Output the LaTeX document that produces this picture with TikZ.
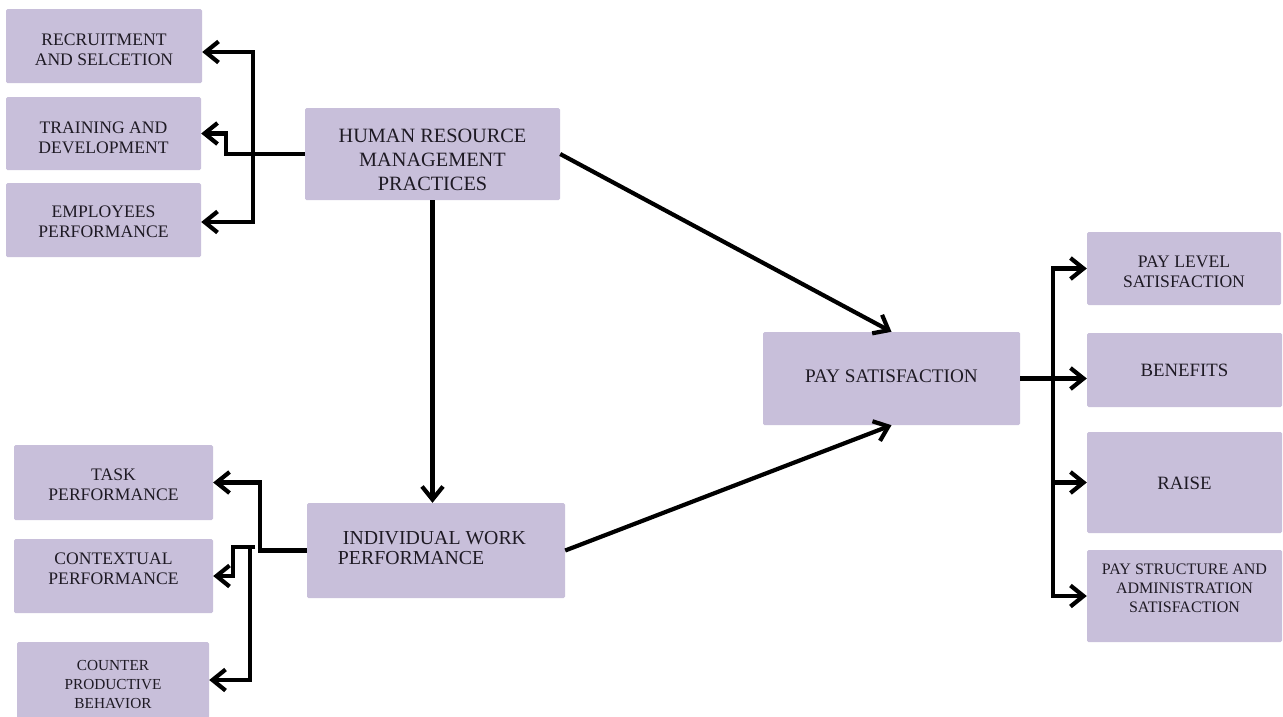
\documentclass[tikz,border=0pt]{standalone}
\usepackage{fontspec}
\setmainfont{Liberation Serif}
\usetikzlibrary{arrows.meta,calc}
\definecolor{boxfill}{HTML}{C8BFDA}
\definecolor{txt}{HTML}{1E1A24}
\begin{document}
\begin{tikzpicture}[x=1pt,y=-1pt,
  box/.style={draw=none,fill=boxfill,rounded corners=1.5pt,inner sep=0pt},
  lbl/.style={inner sep=0pt,align=center,text=txt},
  small/.style={font=\fontsize{17.6}{20}\selectfont},
  big/.style={font=\fontsize{20.3}{24}\selectfont},
  arr/.style={line width=4.2pt,line join=miter,-{Straight Barb[length=13pt,width=21pt,line width=4.2pt]}}]
\useasboundingbox (0,0) rectangle (1283,716);
% boxes
\node[box,minimum width=196pt,minimum height=74pt] (rec) at (104,46) {};
\node[box,minimum width=195pt,minimum height=73pt] (trn) at (103.5,133.5) {};
\node[box,minimum width=195pt,minimum height=74pt] (emp) at (103.5,220) {};
\node[box,minimum width=255pt,minimum height=92pt] (hrm) at (432.5,154) {};
\node[box,minimum width=199pt,minimum height=75pt] (task) at (113.5,482.5) {};
\node[box,minimum width=199pt,minimum height=74pt] (ctx) at (113.5,576) {};
\node[box,minimum width=192pt,minimum height=76pt] (cpb) at (113,680) {};
\node[box,minimum width=258pt,minimum height=95pt] (iwp) at (436,550.5) {};
\node[box,minimum width=257pt,minimum height=93pt] (ps) at (891.5,378.5) {};
\node[box,minimum width=194pt,minimum height=73pt] (pl) at (1184,268.5) {};
\node[box,minimum width=195pt,minimum height=74pt] (ben) at (1184.5,370) {};
\node[box,minimum width=195pt,minimum height=101pt] (rai) at (1184.5,482.5) {};
\node[box,minimum width=195pt,minimum height=92pt] (pst) at (1184.5,596) {};
% texts
\node[lbl,small] (rect) at ($(rec)+(0,4)$) {RECRUITMENT\\AND SELCETION};
\node[lbl,small] (trnt) at ($(trn)+(0,4)$) {TRAINING AND\\DEVELOPMENT};
\node[lbl,small] (empt) at ($(emp)+(0,2)$) {EMPLOYEES\\PERFORMANCE};
\node[lbl,big] (hrmt) at ($(hrm)+(0,5.5)$) {HUMAN RESOURCE\\MANAGEMENT\\PRACTICES};
\node[lbl,small] (taskt) at ($(task)+(0,2.5)$) {TASK\\PERFORMANCE};
\node[lbl,small] (ctxt) at ($(ctx)+(0,-7.5)$) {CONTEXTUAL\\PERFORMANCE};
\node[lbl,font=\fontsize{15.3}{19}\selectfont] (cpbt) at ($(cpb)+(0,5)$) {COUNTER\\PRODUCTIVE\\BEHAVIOR};
\node[lbl,font=\fontsize{19.8}{20}\selectfont,align=left] (iwpt) at ($(iwp)+(-4,-2.5)$) {\hspace*{5pt}INDIVIDUAL WORK\\PERFORMANCE};
\node[lbl,font=\fontsize{19.2}{24}\selectfont] (pst1) at ($(ps)+(0,-2.5)$) {PAY SATISFACTION};
\node[lbl,small] (plt) at ($(pl)+(0,3.5)$) {PAY LEVEL\\SATISFACTION};
\node[lbl,font=\fontsize{18.8}{22}\selectfont] (bent) at ($(ben)+(0,0.5)$) {BENEFITS};
\node[lbl,font=\fontsize{18.8}{22}\selectfont] (rait) at ($(rai)+(0,0.5)$) {RAISE};
\node[lbl,font=\fontsize{16}{19}\selectfont] (pstt) at ($(pst)+(0,-8)$) {PAY STRUCTURE AND\\ADMINISTRATION\\SATISFACTION};
% HRM branch
\coordinate (hb) at (253,154);
\draw[arr] (hrm.west) -| ([xshift=25pt]trn.east) -- (trn.east);
\draw[arr] (hb) |- ([yshift=-6pt]rec.east);
\draw[arr] (hb) |- ([yshift=-2pt]emp.east);
% HRM to IWP and PS
\draw[arr] (hrm.south) -- (hrm.south |- iwp.north);
\draw[arr] (hrm.east) -- (ps.north);
\draw[arr] (iwp.east) -- (ps.south);
% IWP branch
\coordinate (ib) at (255,547);
\draw[arr] (iwp.west) -| ([xshift=47pt]task.east) -- (task.east);
\draw[arr] (ib) -| ([xshift=20pt]ctx.east) -- (ctx.east);
\draw[arr] (250,547) |- (cpb.east);
% PS branch
\coordinate (pb) at (1053,378.5);
\draw[arr] (ps.east) -- (ps.east -| ben.west);
\draw[arr] (pb) |- (pl.west);
\draw[arr] (pb) |- (rai.west);
\draw[arr] (pb) |- (pst.west);
\end{tikzpicture}
\end{document}
